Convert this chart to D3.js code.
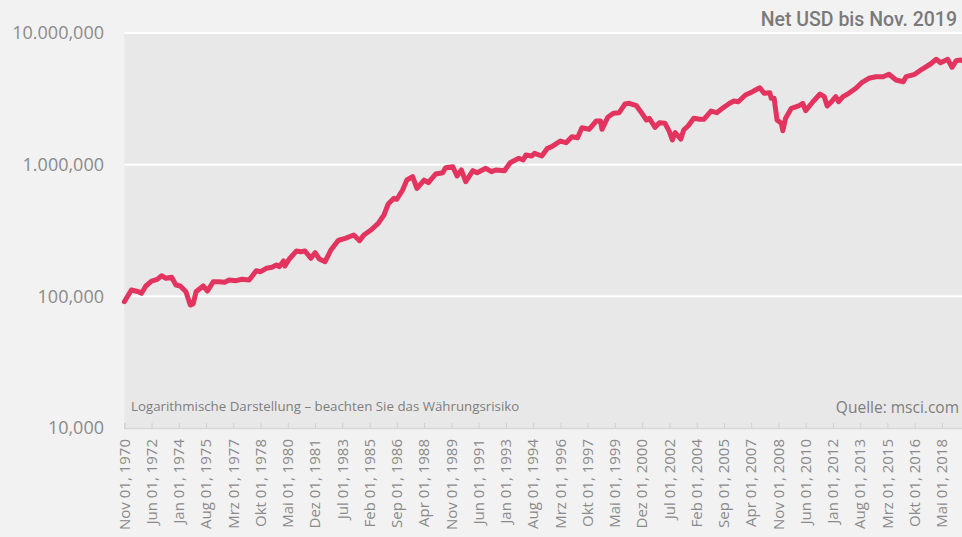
<!DOCTYPE html>
<html lang="de">
<head>
  <meta charset="UTF-8">
  <title>MSCI World Net USD</title>
  <script src="https://d3js.org/d3.v7.min.js"></script>
  <style>
    body {
      margin: 0;
      background: #f2f2f2;
      font-family: "Open Sans", Arial, sans-serif;
    }
  </style>
</head>
<body>
<script>
const width = 962;
const height = 537;

// monthly points (value of the index in USD, net)
const months = [
  "1970-11","1971-04","1971-09","1971-11","1972-02","1972-06","1972-10","1973-01","1973-04","1973-08",
  "1973-11","1974-02","1974-06","1974-09","1974-11","1975-01","1975-06","1975-09","1976-01","1976-05",
  "1976-09","1976-12","1977-05","1977-09","1978-02","1978-07","1978-10","1979-02","1979-06","1979-09",
  "1979-11","1980-02","1980-03","1980-06","1980-11","1981-02","1981-05","1981-09","1981-12","1982-03",
  "1982-07","1982-11","1983-04","1983-05","1983-09","1984-03","1984-07","1984-10","1985-03","1985-08",
  "1985-12","1986-03","1986-07","1986-09","1987-01","1987-04","1987-08","1987-11","1988-04","1988-07",
  "1988-12","1989-05","1989-07","1989-12","1990-03","1990-06","1990-09","1991-02","1991-05","1991-11",
  "1992-03","1992-06","1992-12","1993-04","1993-10","1994-01","1994-03","1994-07","1994-09","1995-02",
  "1995-06","1995-09","1996-03","1996-07","1996-11","1997-03","1997-06","1997-11","1998-04","1998-07",
  "1998-08","1998-12","1999-04","1999-08","1999-12","2000-03","2000-08","2000-11","2001-03","2001-05",
  "2001-09","2001-12","2002-04","2002-07","2002-09","2002-11","2003-03","2003-05","2003-08","2003-12",
  "2004-04","2004-07","2004-12","2005-04","2005-08","2006-01","2006-04","2006-07","2006-12","2007-05",
  "2007-06","2007-10","2008-01","2008-05","2008-06","2008-08","2008-10","2009-01","2009-02","2009-04",
  "2009-08","2010-01","2010-04","2010-06","2010-11","2011-04","2011-07","2011-09","2011-12","2012-03",
  "2012-05","2012-08","2012-12","2013-05","2013-09","2014-02","2014-07","2014-12","2015-04","2015-09",
  "2016-02","2016-04","2016-10","2017-03","2017-09","2018-01","2018-04","2018-09","2018-12","2019-03",
  "2019-06","2019-08","2019-11"
];
const values = [
  91000, 111700, 108400, 105400, 119800, 130700, 134700, 143500, 137100, 139500,
  121900, 119800, 108400, 85900, 87450, 108400, 119800, 109800, 129100, 129100,
  128000, 133100, 131500, 134700, 133100, 156500, 153800, 163300, 166200, 172900,
  167900, 185500, 170000, 192100, 221000, 218300, 221000, 194500, 214500, 192100,
  183200, 224800, 264500, 267800, 275900, 292300, 264500, 292300, 319000, 358600,
  414700, 502500, 555300, 545700, 642100, 764500, 810000, 661500, 764500, 729400,
  849300, 869000, 948200, 965000, 820200, 911000, 742200, 899900, 869000, 938400,
  884300, 911000, 899900, 1035000, 1118000, 1085000, 1184000, 1164000, 1220000, 1164000,
  1331000, 1369000, 1512000, 1468000, 1631000, 1602000, 1909000, 1856000, 2146000, 2146000,
  1856000, 2289000, 2455000, 2481000, 2888000, 2924000, 2804000, 2525000, 2184000, 2250000,
  1922000, 2084000, 2062000, 1780000, 1539000, 1749000, 1566000, 1833000, 1966000, 2250000,
  2211000, 2211000, 2555000, 2481000, 2679000, 2924000, 3044000, 3007000, 3381000, 3582000,
  3645000, 3841000, 3483000, 3520000, 3191000, 3191000, 2184000, 2062000, 1811000, 2250000,
  2679000, 2790000, 2924000, 2569000, 3007000, 3441000, 3283000, 2790000, 3007000, 3283000,
  3007000, 3283000, 3483000, 3801000, 4194000, 4529000, 4656000, 4656000, 4857000, 4395000,
  4267000, 4656000, 4857000, 5301000, 5815000, 6312000, 5949000, 6312000, 5489000, 6161000,
  6237000, 6100000, 6500000
];

const yTicks = [10000, 100000, 1000000, 10000000];
const yTickLabels = ["10,000", "100,000", "1.000,000", "10.000,000"];

const xTicks = [
  "1970-11","1972-06","1974-01","1975-08","1977-03","1978-10","1980-05","1981-12",
  "1983-07","1985-02","1986-09","1988-04","1989-11","1991-06","1993-01","1994-08",
  "1996-03","1997-10","1999-05","2000-12","2002-07","2004-02","2005-09","2007-04",
  "2008-11","2010-06","2012-01","2013-08","2015-03","2016-10","2018-05"
];
const monthNames = ["Jan","Feb","Mrz","Apr","Mai","Jun","Jul","Aug","Sep","Okt","Nov","Dez"];

const parseMonth = d3.timeParse("%Y-%m");
const data = months.map((m, i) => ({ date: parseMonth(m), value: values[i] }));

const plotLeft = 124.3, plotTop = 33, plotBottom = 428;

const svg = d3.select("body").append("svg")
  .attr("width", width)
  .attr("height", height)
  .style("display", "block");

const x = d3.scaleTime()
  .domain([parseMonth("1970-11"), parseMonth("2019-11")])
  .range([plotLeft, 967.8]);

const y = d3.scaleLog()
  .domain([10000, 10000000])
  .range([plotBottom, plotTop]);

// plot background
svg.append("rect")
  .attr("x", plotLeft)
  .attr("y", plotTop)
  .attr("width", width - plotLeft)
  .attr("height", plotBottom - plotTop)
  .attr("fill", "#e8e8e8");

// grid lines
svg.append("g")
  .selectAll("line")
  .data(yTicks.slice(1))
  .join("line")
  .attr("x1", plotLeft)
  .attr("x2", width)
  .attr("y1", d => y(d))
  .attr("y2", d => y(d))
  .attr("stroke", "#fff")
  .attr("stroke-width", 2);

// y labels
svg.append("g")
  .selectAll("text")
  .data(yTicks)
  .join("text")
  .attr("x", 104)
  .attr("y", d => y(d))
  .attr("dy", "0.35em")
  .attr("text-anchor", "end")
  .attr("fill", "#8a8a8a")
  .attr("font-size", 18)
  .text((d, i) => yTickLabels[i]);

// x axis
const fmt = d => `${monthNames[d.getMonth()]} ${d3.timeFormat("%d, %Y")(d)}`;
const xAxis = svg.append("g")
  .attr("transform", `translate(0,${plotBottom})`)
  .call(d3.axisTop(x)
    .tickValues(xTicks.map(parseMonth))
    .tickSize(5)
    .tickFormat(""));
xAxis.select(".domain").attr("stroke", "#d6d6d6").attr("stroke-width", 1.5);
xAxis.selectAll(".tick line").attr("stroke", "#d0d0d0");

svg.append("g")
  .selectAll("text")
  .data(xTicks.map(parseMonth))
  .join("text")
  .attr("transform", d => `translate(${x(d)},439) rotate(-90)`)
  .attr("dy", "0.35em")
  .attr("text-anchor", "end")
  .attr("fill", "#8a8a8a")
  .attr("font-size", 15)
  .text(fmt);

// the line
const line = d3.line()
  .x(d => x(d.date))
  .y(d => y(d.value));

svg.append("path")
  .datum(data)
  .attr("fill", "none")
  .attr("stroke", "#e2345f")
  .attr("stroke-width", 5)
  .attr("stroke-linejoin", "round")
  .attr("stroke-linecap", "round")
  .attr("d", line);

// texts
svg.append("text")
  .attr("x", 957)
  .attr("y", 26)
  .attr("text-anchor", "end")
  .attr("fill", "#7a7a7a")
  .attr("font-family", "Roboto, sans-serif")
  .attr("font-weight", 500)
  .attr("font-size", 19.5)
  .text("Net USD bis Nov. 2019");

svg.append("text")
  .attr("x", 131)
  .attr("y", 411)
  .attr("fill", "#7e7e7e")
  .attr("font-size", 13.3)
  .text("Logarithmische Darstellung – beachten Sie das Währungsrisiko");

svg.append("text")
  .attr("x", 959)
  .attr("y", 413)
  .attr("text-anchor", "end")
  .attr("fill", "#7e7e7e")
  .attr("font-size", 15.5)
  .text("Quelle: msci.com");
</script>
</body>
</html>
